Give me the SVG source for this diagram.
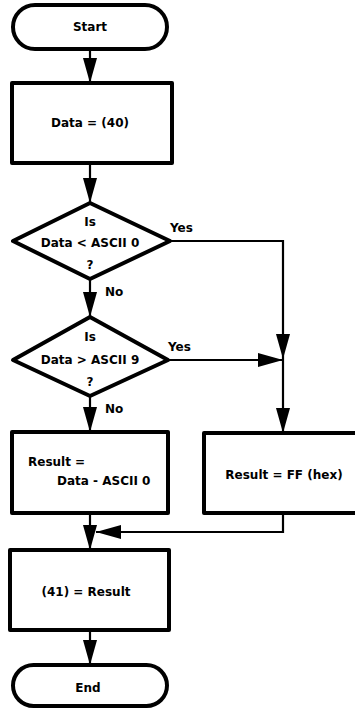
<svg xmlns="http://www.w3.org/2000/svg" width="355" height="708" viewBox="0 0 355 708">
<style>
  .node { fill: #fff; stroke: #000; stroke-width: 4; stroke-linejoin: round; }
  .t { font-family: "DejaVu Sans", "Liberation Sans", sans-serif; font-weight: bold; font-size: 12px; fill: #000; }
  .c { text-anchor: middle; }
  .conn { fill: none; stroke: #000; stroke-width: 2.2; }
</style>
<defs>
  <marker id="ah" markerUnits="userSpaceOnUse" markerWidth="26" markerHeight="14" refX="25" refY="7" orient="auto">
    <path d="M0,0 L25,7 L0,14 z" fill="#000"/>
  </marker>
</defs>
<rect width="355" height="708" fill="#fff"/>
<g id="connectors">
  <line class="conn" x1="90" y1="49" x2="90" y2="83" marker-end="url(#ah)"/>
  <line class="conn" x1="90" y1="163" x2="90" y2="203" marker-end="url(#ah)"/>
  <polyline class="conn" points="170,241 283,241 283,359" marker-end="url(#ah)"/>
  <line class="conn" x1="90" y1="279" x2="90" y2="317" marker-end="url(#ah)"/>
  <line class="conn" x1="168" y1="360" x2="283" y2="360" marker-end="url(#ah)"/>
  <line class="conn" x1="283" y1="359" x2="283" y2="433" marker-end="url(#ah)"/>
  <line class="conn" x1="90" y1="396" x2="90" y2="432" marker-end="url(#ah)"/>
  <polyline class="conn" points="283,513 283,532 96,532" marker-end="url(#ah)"/>
  <line class="conn" x1="90" y1="513" x2="90" y2="550" marker-end="url(#ah)"/>
  <line class="conn" x1="90" y1="630" x2="90" y2="665" marker-end="url(#ah)"/>
  <text class="t" x="170" y="232">Yes</text>
  <text class="t" x="105" y="296">No</text>
  <text class="t" x="168" y="351">Yes</text>
  <text class="t" x="105" y="413">No</text>
</g>
<g id="start">
  <rect class="node" x="13" y="5" width="154" height="44" rx="22"/>
  <text class="t c" x="90" y="31">Start</text>
</g>
<g id="load">
  <rect class="node" x="12" y="83" width="160" height="80"/>
  <text class="t c" x="90" y="127">Data = (40)</text>
</g>
<g id="dec1">
  <polygon class="node" points="90,203 170,241 90,279 13,241"/>
  <text class="t c" x="90" y="226">Is</text>
  <text class="t c" x="90" y="247">Data &lt; ASCII 0</text>
  <text class="t c" x="90" y="269">?</text>
</g>
<g id="dec2">
  <polygon class="node" points="90,317 168,360 90,396 13,360"/>
  <text class="t c" x="90" y="341">Is</text>
  <text class="t c" x="90" y="364">Data &gt; ASCII 9</text>
  <text class="t c" x="90" y="386">?</text>
</g>
<g id="convert">
  <rect class="node" x="12" y="432" width="156" height="81"/>
  <text class="t" x="28" y="466">Result =</text>
  <text class="t" x="57" y="485">Data - ASCII 0</text>
</g>
<g id="error">
  <rect class="node" x="204" y="433" width="156" height="80"/>
  <text class="t c" x="284" y="479">Result = FF (hex)</text>
</g>
<g id="store">
  <rect class="node" x="10" y="550" width="159" height="80"/>
  <text class="t c" x="86" y="596">(41) = Result</text>
</g>
<g id="end">
  <rect class="node" x="13" y="665" width="154" height="41" rx="20.5"/>
  <text class="t c" x="88" y="692">End</text>
</g>
</svg>
